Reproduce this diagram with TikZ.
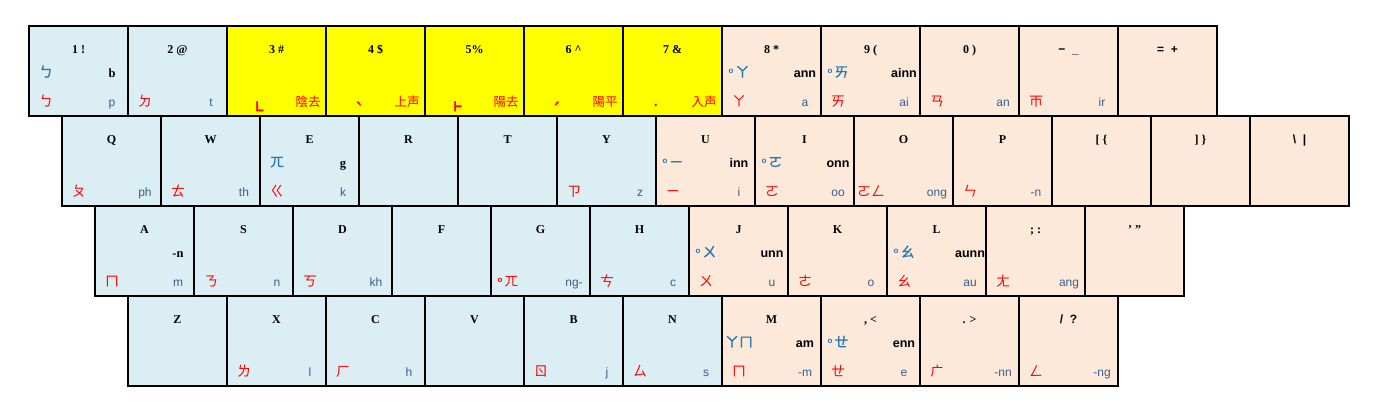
\documentclass[tikz,border=0pt]{standalone}
\usepackage{fontspec}
\setmainfont{Liberation Serif}
\setsansfont{Liberation Sans}
\newfontfamily\cjk{Noto Sans CJK TC}
\newfontfamily\cjkb[FakeBold=1]{Noto Sans CJK TC}
\newfontfamily\nts{Noto Sans}
\definecolor{kblue}{HTML}{DAEEF3}
\definecolor{kpeach}{HTML}{FDE9D9}
\definecolor{kyellow}{HTML}{FFFF00}
\definecolor{midblue}{HTML}{2479B3}
\definecolor{latblue}{HTML}{366092}
\definecolor{kred}{HTML}{FF0000}
\tikzset{
  keybox/.style={draw=black, line width=2pt, minimum width=99pt, minimum height=90pt, inner sep=0pt, outer sep=0pt, anchor=north west},
  lbl/.style={inner sep=0pt, anchor=base},
  hdr/.style={lbl, font=\fontsize{12}{12}\selectfont\bfseries},
  mchar/.style={lbl, text=midblue, font=\fontsize{14}{14}\selectfont\cjkb},
  mlat/.style={lbl, text=black, font=\fontsize{12.5}{12.5}\selectfont\sffamily\bfseries},
  bchar/.style={lbl, text=kred, font=\fontsize{14}{14}\selectfont\cjk},
  blat/.style={lbl, text=latblue, font=\fontsize{12}{12}\selectfont\sffamily},
  tone/.style={lbl, text=kred},
  zh/.style={lbl, text=kred, font=\fontsize{12.5}{12.5}\selectfont\cjk},
}
\newcommand\nas{\raisebox{3.5pt}{\sffamily\bfseries\fontsize{8}{8}\selectfont o}\hspace{2pt}}
\newcommand\tbig[1]{{\fontsize{28}{28}\selectfont\nts #1}}
\newcommand\tmid[1]{{\fontsize{24}{24}\selectfont\nts #1}}
\newcommand\tsml[1]{{\fontsize{22}{22}\selectfont\nts #1}}
% name, x, y, fill, header, midL, midR, botL, botR
\newcommand\K[9]{%
  \node[keybox, fill=#4] (#1) at (#2,#3) {};
  \node[hdr] (#1-h) at (#2+49.5,#3+27) {#5};
  \def\argt{#6}\ifx\argt\empty\else\node[mchar] (#1-ml) at (#2+17,#3+51) {#6};\fi
  \def\argt{#7}\ifx\argt\empty\else\node[mlat] (#1-mr) at (#2+83,#3+51) {#7};\fi
  \def\argt{#8}\ifx\argt\empty\else\node[bchar] (#1-bl) at (#2+17,#3+80) {#8};\fi
  \def\argt{#9}\ifx\argt\empty\else\node[blat] (#1-br) at (#2+83,#3+80) {#9};\fi
}
% name, x, y, header, tone, chinese, tone baseline offset
\newcommand\T[7]{%
  \node[keybox, fill=kyellow] (#1) at (#2,#3) {};
  \node[hdr] (#1-h) at (#2+49.5,#3+27) {#4};
  \node[tone] (#1-t) at (#2+33,#3+#7) {#5};
  \node[zh] (#1-z) at (#2+81,#3+80) {#6};
}
\begin{document}
\begin{tikzpicture}[x=1pt,y=-1pt]
\useasboundingbox (0,0) rectangle (1382,413);
\fill[white] (0,0) rectangle (1382,413);
% Row 1
\K{k1}{29}{26}{kblue}{1 !}{ㄅ}{\rmfamily b}{ㄅ}{p}
\K{k2}{128}{26}{kblue}{2 @}{}{}{ㄉ}{t}
\T{k3}{227}{26}{3 \#}{\tbig{˪}}{陰去}{90}
\T{k4}{326}{26}{4 \$}{\tmid{ˋ}}{上声}{94}
\T{k5}{425}{26}{5\%}{\tbig{˫}}{陽去}{90}
\T{k6}{524}{26}{6 \textasciicircum}{\tmid{ˊ}}{陽平}{94}
\T{k7}{623}{26}{7 \&}{\tsml{˙}}{入声}{94}
\K{k8}{722}{26}{kpeach}{8 *}{\nas ㄚ}{ann}{ㄚ}{a}
\K{k9}{821}{26}{kpeach}{9 (}{\nas ㄞ}{ainn}{ㄞ}{ai}
\K{k0}{920}{26}{kpeach}{0 )}{}{}{ㄢ}{an}
\K{kminus}{1019}{26}{kpeach}{{\sffamily −\ \ \_}}{}{}{ㄭ}{ir}
\K{kequal}{1118}{26}{kpeach}{{\sffamily =\ \ +}}{}{}{}{}
% Row 2
\K{kq}{62}{116}{kblue}{Q}{}{}{ㄆ}{ph}
\K{kw}{161}{116}{kblue}{W}{}{}{ㄊ}{th}
\K{ke}{260}{116}{kblue}{E}{ㄫ}{\rmfamily g}{ㄍ}{k}
\K{kr}{359}{116}{kblue}{R}{}{}{}{}
\K{kt}{458}{116}{kblue}{T}{}{}{}{}
\K{ky}{557}{116}{kblue}{Y}{}{}{ㄗ}{z}
\K{ku}{656}{116}{kpeach}{U}{\nas ㄧ}{inn}{ㄧ}{i}
\K{ki}{755}{116}{kpeach}{I}{\nas ㄛ}{onn}{ㄛ}{oo}
\K{ko}{854}{116}{kpeach}{O}{}{}{ㄛㄥ}{ong}
\K{kp}{953}{116}{kpeach}{P}{}{}{ㄣ}{-n}
\K{klb}{1052}{116}{kpeach}{[ \{}{}{}{}{}
\K{krb}{1151}{116}{kpeach}{] \}}{}{}{}{}
\K{kbs}{1250}{116}{kpeach}{{\sffamily\textbackslash\ \ |}}{}{}{}{}
% Row 3
\K{ka}{95}{206}{kblue}{A}{}{\rmfamily -n}{ㄇ}{m}
\K{ks}{194}{206}{kblue}{S}{}{}{ㄋ}{n}
\K{kd}{293}{206}{kblue}{D}{}{}{ㄎ}{kh}
\K{kf}{392}{206}{kblue}{F}{}{}{}{}
\K{kg}{491}{206}{kblue}{G}{}{}{\nas ㄫ}{ng-}
\K{kh}{590}{206}{kblue}{H}{}{}{ㄘ}{c}
\K{kj}{689}{206}{kpeach}{J}{\nas ㄨ}{unn}{ㄨ}{u}
\K{kk}{788}{206}{kpeach}{K}{}{}{ㄜ}{o}
\K{kl}{887}{206}{kpeach}{L}{\nas ㄠ}{aunn}{ㄠ}{au}
\K{ksc}{986}{206}{kpeach}{; :}{}{}{ㄤ}{ang}
\K{kqt}{1085}{206}{kpeach}{’ ”}{}{}{}{}
% Row 4
\K{kz}{128}{296}{kblue}{Z}{}{}{}{}
\K{kx}{227}{296}{kblue}{X}{}{}{ㄌ}{l}
\K{kc}{326}{296}{kblue}{C}{}{}{ㄏ}{h}
\K{kv}{425}{296}{kblue}{V}{}{}{}{}
\K{kb}{524}{296}{kblue}{B}{}{}{ㄖ}{j}
\K{kn}{623}{296}{kblue}{N}{}{}{ㄙ}{s}
\K{km}{722}{296}{kpeach}{M}{ㄚㄇ}{am}{ㄇ}{-m}
\K{kcomma}{821}{296}{kpeach}{, <}{\nas ㄝ}{enn}{ㄝ}{e}
\K{kdot}{920}{296}{kpeach}{. >}{}{}{ㄬ}{-nn}
\K{kslash}{1019}{296}{kpeach}{{\sffamily /\ \ ?}}{}{}{ㄥ}{-ng}
\end{tikzpicture}
\end{document}
